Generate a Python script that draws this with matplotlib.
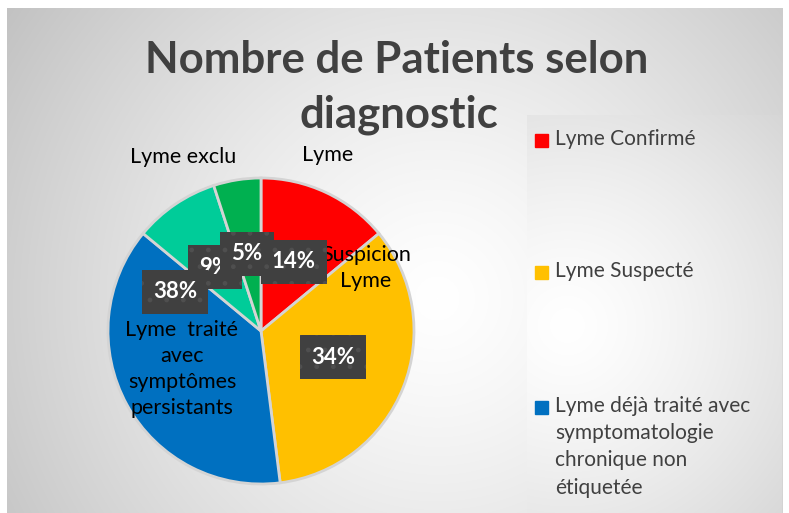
import numpy as np
import matplotlib.pyplot as plt
from matplotlib.patches import Rectangle

plt.rcParams['font.family'] = ['Lato', 'DejaVu Sans']
plt.rcParams['hatch.linewidth'] = 1.0

# Data
values = [14, 34, 38, 9, 5]
colors = ['#FF0000', '#FFC000', '#0070C0', '#00CC99', '#00B050']
legend_labels = ['Lyme Confirmé', 'Lyme Suspecté',
                 'Lyme déjà traité avec\nsymptomatologie\nchronique non\nétiquetée']
slice_labels = ['Lyme', 'Suspicion\nLyme', 'Lyme  traité\navec\nsymptômes\npersistants', 'Lyme exclu']

W, H = 789, 513
fig = plt.figure(figsize=(W / 100, H / 100), dpi=100)
ax = fig.add_axes([0, 0, 1, 1])


def radial(w, h, cx, cy, scale, lo, hi):
    yy, xx = np.mgrid[0:h, 0:w]
    d = np.sqrt(((xx - cx) / scale) ** 2 + ((yy - cy) / scale) ** 2)
    d = np.clip(d, 0, 1)
    g = hi - (hi - lo) * d ** 1.3
    return np.dstack([g, g, g])


# chart background
bg = radial(776, 505, 430, 290, 520, 0.76, 1.0)
ax.imshow(bg, extent=(7, 783, 0, 505), origin='upper', zorder=0)
# legend panel
lg = radial(255, 398, 40, 210, 330, 0.82, 1.0)
ax.imshow(lg, extent=(527, 782, 0, 398), origin='upper', zorder=1)

# pie
wedges, _ = ax.pie(values, colors=colors, startangle=90, counterclock=False,
                   center=(261, H - 331), radius=153, frame=True,
                   wedgeprops=dict(edgecolor='#d4d4d4', linewidth=2))
for w in wedges:
    w.set_zorder(3)
ax.set_xlim(0, W)
ax.set_ylim(0, H)
ax.set_aspect('auto')
ax.axis('off')

# title
ax.text(397, H - 60, 'Nombre de Patients selon', ha='center', va='center',
        fontsize=31.5, fontweight='bold', color='#404040', zorder=5)
ax.text(399, H - 115, 'diagnostic', ha='center', va='center',
        fontsize=31.5, fontweight='bold', color='#404040', zorder=5)

# slice name labels
name_pos = [(328, 155), (366, 268), (182, 369), (183, 157)]
for txt, (x, y) in zip(slice_labels, name_pos):
    ax.text(x, H - y, txt, ha='center', va='center', fontsize=15.5,
            color='black', linespacing=1.38, zorder=6)

# percent labels (draw order matters for overlap)
pct_pos = {0: (294, 262), 1: (333, 357), 2: (175, 292), 3: (215, 267), 4: (247, 254)}
for i in [0, 1, 3, 4, 2]:
    x, y = pct_pos[i]
    ax.text(x, H - y, f'{values[i]}%', ha='center', va='center', fontsize=16,
            fontweight='bold', color='white', zorder=7,
            bbox=dict(boxstyle='square,pad=0.5', fc='#404040', ec='#4f4f4f',
                      lw=0, hatch='.'))

# legend
leg_y = [140, 272, 407]
for lab, col, y in zip(legend_labels, colors[:3], leg_y):
    ax.add_patch(Rectangle((535, H - y - 7), 13, 13, color=col, zorder=5))
    ax.text(555, H - y + 11, lab, ha='left', va='top', fontsize=15,
            color='#404040', linespacing=1.45, zorder=5)

fig.savefig('out.png', dpi=100)
